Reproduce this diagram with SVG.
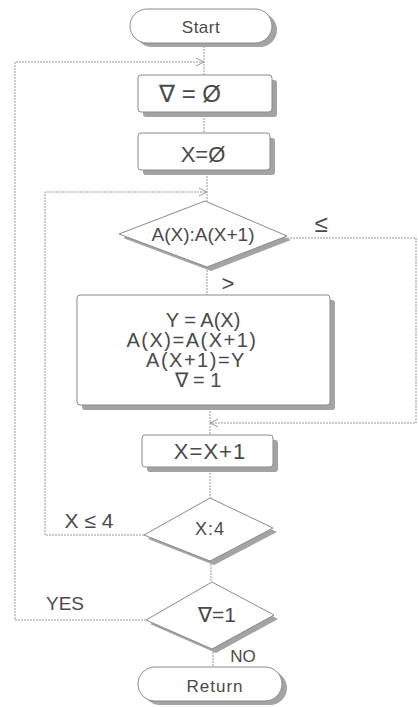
<svg xmlns="http://www.w3.org/2000/svg" width="418" height="707" viewBox="0 0 418 707">
<style>
.sh{fill:#a3a3a3;stroke:none}
.nd{fill:#fff;stroke:#8a8a8a;stroke-width:1}
.tx{font-family:"Liberation Sans",Arial,sans-serif;font-size:19px;fill:#4a4a4a;text-anchor:middle;dominant-baseline:central}
.cn{fill:none;stroke:#999;stroke-width:1;stroke-dasharray:2 1}
.ar{fill:none;stroke:#999;stroke-width:1}
</style>
<rect width="418" height="707" fill="#fff"/>
<g id="connectors">
<path class="cn" d="M204,43 V75"/>
<path class="cn" d="M204,112 V133"/>
<path class="cn" d="M207,170 V201"/>
<path class="cn" d="M207,267 V295"/>
<path class="cn" d="M210,405 V435"/>
<path class="cn" d="M210,467 V498"/>
<path class="cn" d="M211,561 V582"/>
<path class="cn" d="M213,649 V667"/>
<path class="cn" d="M287,238 H416 V423 H210"/>
<path class="cn" d="M144,535 H45 V192 H207"/>
<path class="cn" d="M146,620 H15 V62 H204"/>
<path class="ar" d="M196,58 L204,62 L196,66"/>
<path class="ar" d="M199,188 L207,192 L199,196"/>
<path class="ar" d="M218,419 L210,423 L218,427"/>
</g>
<g id="start">
<rect class="sh" x="135" y="13" width="142" height="34" rx="17"/>
<rect class="nd" x="130" y="9" width="142" height="34" rx="17"/>
<text class="tx" x="201" y="27" style="font-size:17px;letter-spacing:0.5px">Start</text>
</g>
<g id="v0">
<rect class="sh" x="143" y="80" width="134" height="37" rx="3"/>
<rect class="nd" x="138" y="75" width="134" height="37" rx="3"/>
<text class="tx" x="190" y="93" style="font-size:24px">∇ = Ø</text>
</g>
<g id="x0">
<rect class="sh" x="143" y="138" width="132" height="37" rx="3"/>
<rect class="nd" x="138" y="133" width="132" height="37" rx="3"/>
<text class="tx" x="203" y="154" style="font-size:22px">X=Ø</text>
</g>
<g id="cmp">
<polygon class="sh" points="123,238 209,205 291,240 211,271"/>
<polygon class="nd" points="119,234 205,201 287,236 207,267"/>
<text class="tx" x="203" y="234">A(X):A(X+1)</text>
<text class="tx" x="321" y="223" style="font-size:24px">≤</text>
<text class="tx" x="228" y="283" style="font-size:22px">&gt;</text>
</g>
<g id="swap">
<rect class="sh" x="82" y="300" width="253" height="110" rx="3"/>
<rect class="nd" x="77" y="295" width="253" height="110" rx="3"/>
<text class="tx" x="203" y="320" style="font-size:20px">Y = A(X)</text>
<text class="tx" x="192" y="340" style="font-size:20px;letter-spacing:1.5px">A(X)=A(X+1)</text>
<text class="tx" x="196" y="360" style="font-size:20px;letter-spacing:1.5px">A(X+1)=Y</text>
<text class="tx" x="198" y="380" style="font-size:20px">∇ = 1</text>
</g>
<g id="inc">
<rect class="sh" x="147" y="440" width="131" height="32" rx="3"/>
<rect class="nd" x="142" y="435" width="131" height="32" rx="3"/>
<text class="tx" x="210" y="451" style="font-size:22px;letter-spacing:1px">X=X+1</text>
</g>
<g id="x4">
<polygon class="sh" points="148,539 214,502 277,532 214,565"/>
<polygon class="nd" points="144,535 210,498 273,528 210,561"/>
<text class="tx" x="210" y="529" style="font-size:18px;letter-spacing:1px">X:4</text>
<text class="tx" x="89" y="520" style="font-size:21px">X ≤ 4</text>
</g>
<g id="vflag">
<polygon class="sh" points="150,624 216,586 278,619 216,653"/>
<polygon class="nd" points="146,620 212,582 274,615 212,649"/>
<text class="tx" x="217" y="614" style="font-size:21px">∇=1</text>
<text class="tx" x="65" y="603" style="font-size:19px">YES</text>
<text class="tx" x="243" y="656" style="font-size:17px">NO</text>
</g>
<g id="return">
<rect class="sh" x="143" y="671" width="144" height="34" rx="17"/>
<rect class="nd" x="138" y="667" width="144" height="34" rx="17"/>
<text class="tx" x="215" y="686" style="font-size:17px;letter-spacing:1px">Return</text>
</g>
</svg>
